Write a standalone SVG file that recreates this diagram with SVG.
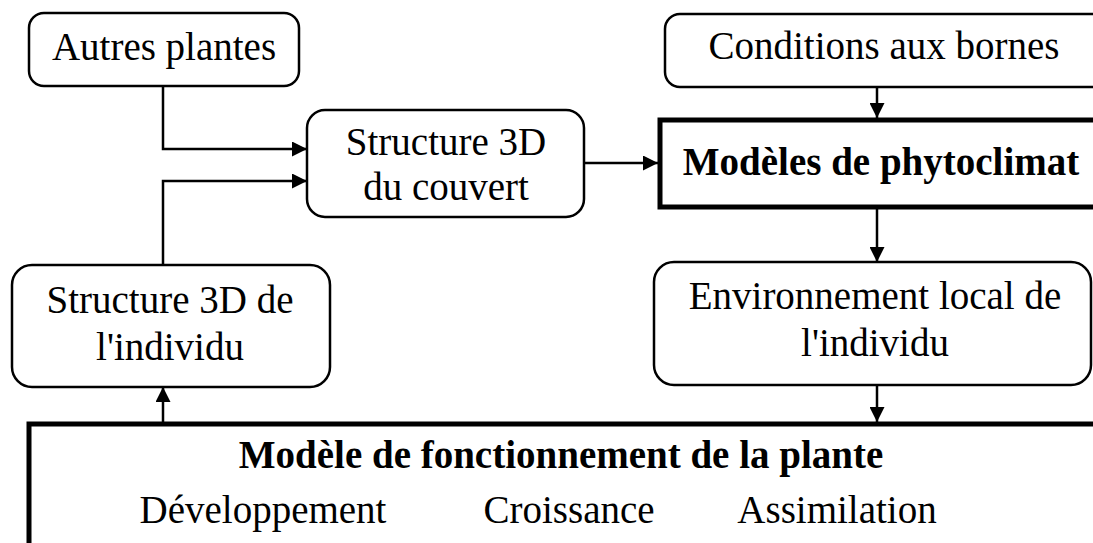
<svg xmlns="http://www.w3.org/2000/svg" width="1093" height="543" viewBox="0 0 1093 543">
<defs>
<marker id="arr" markerUnits="userSpaceOnUse" markerWidth="15" markerHeight="15" refX="15" refY="7.5" orient="auto">
<path d="M0,0 L15,7.5 L0,15 z" fill="#000"/>
</marker>
<style>
.rb{fill:#fff;stroke:#000;stroke-width:2.5}
.tb{fill:#fff;stroke:#000;stroke-width:5}
.t{font-family:"Liberation Serif","Times New Roman",serif;font-size:39px;fill:#000;text-anchor:middle}
.b{font-weight:bold}
.c{fill:none;stroke:#000;stroke-width:2.5}
</style>
</defs>
<rect width="1093" height="543" fill="#fff"/>
<g id="autres-plantes">
<rect class="rb" x="29" y="13" width="270" height="73" rx="15"/>
<text class="t" x="164" y="60">Autres plantes</text>
</g>
<g id="conditions-bornes">
<rect class="rb" x="665" y="14" width="460" height="73" rx="15"/>
<text class="t" x="884" y="59">Conditions aux bornes</text>
</g>
<g id="structure-couvert">
<rect class="rb" x="307" y="110" width="277" height="107" rx="18"/>
<text class="t" x="446" y="155">Structure 3D</text>
<text class="t" x="446" y="200">du couvert</text>
</g>
<g id="phytoclimat">
<rect class="tb" x="660" y="120" width="460" height="87"/>
<text class="t b" x="881" y="175">Modèles de phytoclimat</text>
</g>
<g id="structure-individu">
<rect class="rb" x="12" y="265" width="318" height="122" rx="20"/>
<text class="t" x="170" y="313">Structure 3D de</text>
<text class="t" x="170" y="360">l'individu</text>
</g>
<g id="environnement">
<rect class="rb" x="654" y="262" width="437" height="123" rx="20"/>
<text class="t" x="875" y="309">Environnement local de</text>
<text class="t" x="875" y="356">l'individu</text>
</g>
<g id="fonctionnement">
<rect class="tb" x="29" y="424" width="1100" height="200"/>
<text class="t b" x="561" y="468">Modèle de fonctionnement de la plante</text>
<text class="t" x="263" y="523">Développement</text>
<text class="t" x="569" y="523">Croissance</text>
<text class="t" x="837" y="523">Assimilation</text>
</g>
<g id="connectors">
<path class="c" d="M163,86 V149 H307" marker-end="url(#arr)"/>
<path class="c" d="M163,265 V181 H307" marker-end="url(#arr)"/>
<path class="c" d="M584,163 H658" marker-end="url(#arr)"/>
<path class="c" d="M877,87 V118" marker-end="url(#arr)"/>
<path class="c" d="M877,207 V262" marker-end="url(#arr)"/>
<path class="c" d="M877,385 V422" marker-end="url(#arr)"/>
<path class="c" d="M163,422 V387" marker-end="url(#arr)"/>
</g>
</svg>
